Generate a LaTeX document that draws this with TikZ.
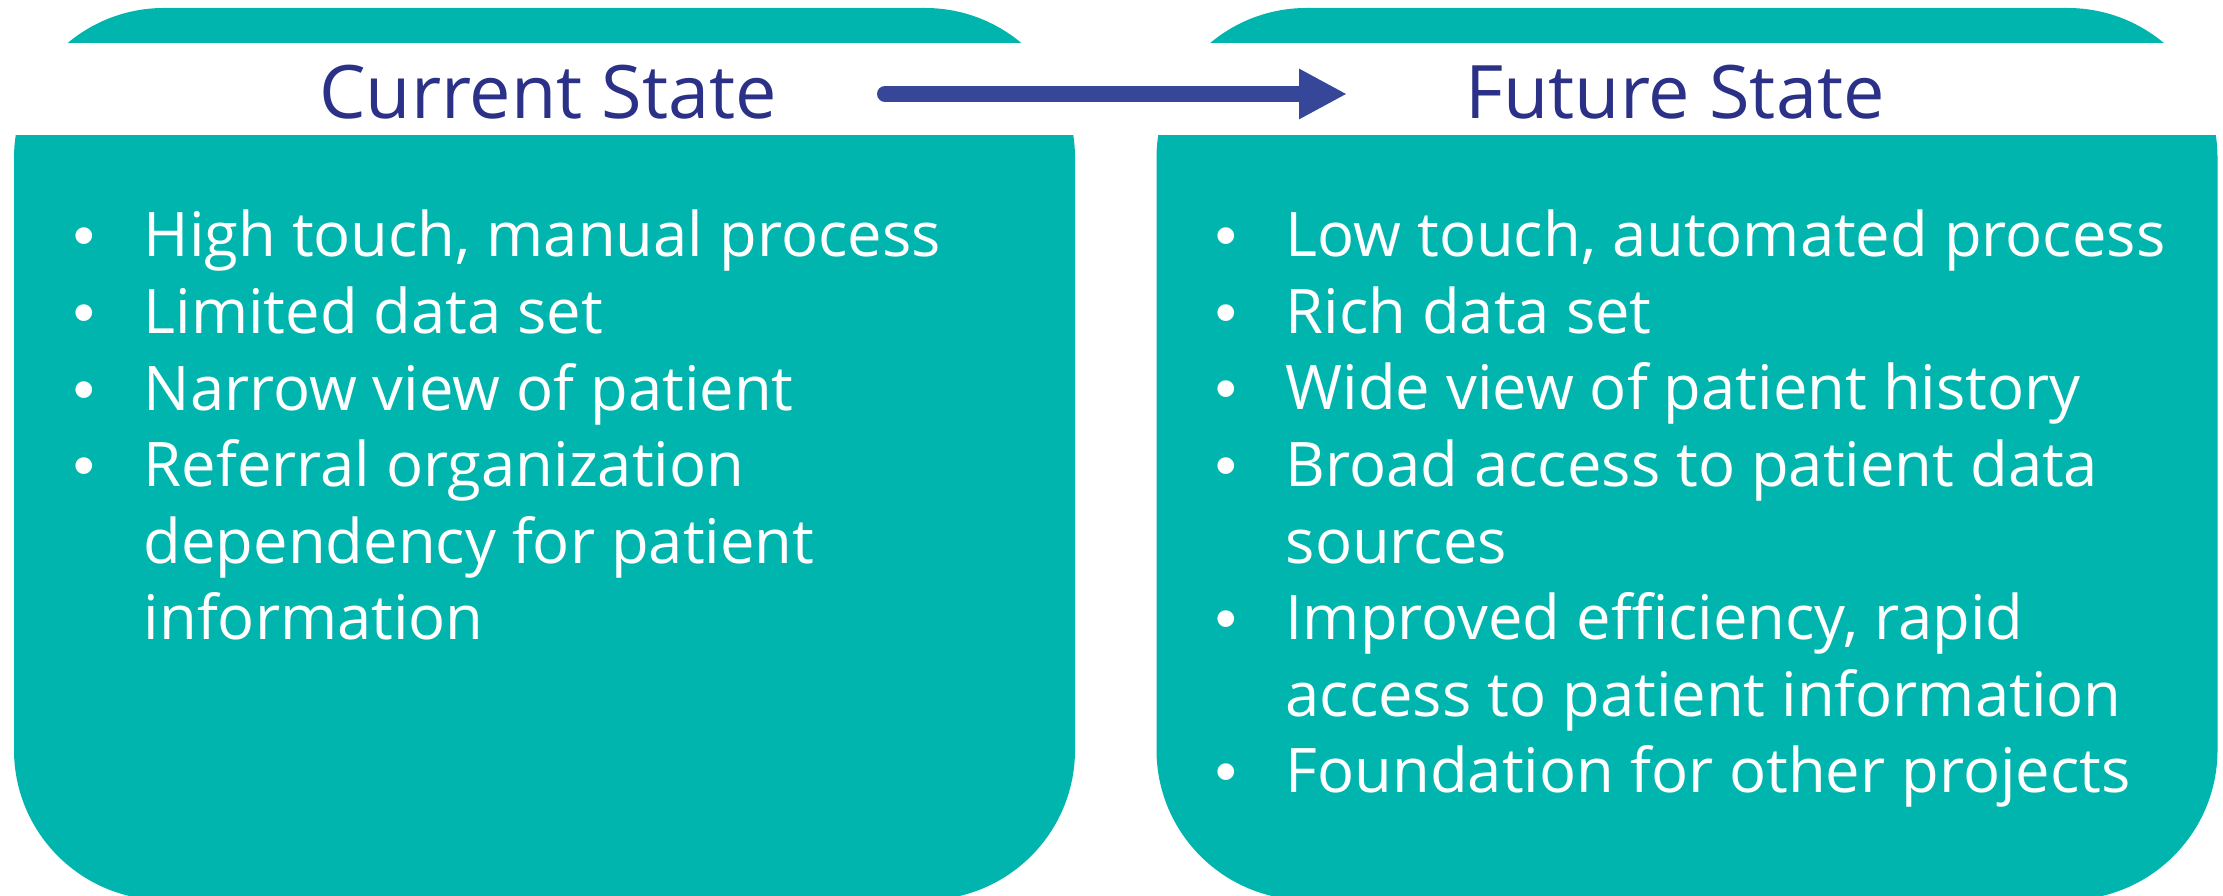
\documentclass[tikz,border=0pt]{standalone}
\usepackage{fontspec}
\setmainfont{Open Sans}
\newfontfamily\bulletfont{Liberation Sans}
\usetikzlibrary{arrows.meta}
\definecolor{boxteal}{RGB}{0,181,173}
\definecolor{titleblue}{RGB}{42,49,134}
\definecolor{arrowblue}{RGB}{54,71,154}
\tikzstyle{statebox}=[fill=boxteal, rounded corners=1.5cm, minimum width=10.61cm, minimum height=8.92cm, inner sep=0pt]
\tikzstyle{statetitle}=[text=titleblue, font=\fontsize{21pt}{25pt}\selectfont, inner sep=0pt, anchor=base]
\tikzstyle{pointlist}=[text=white, font=\fontsize{17.5pt}{21.8pt}\selectfont, align=left, inner sep=0pt, anchor=base west]
\newcommand{\bul}{\makebox[0.70cm][l]{{\bulletfont •}}}
\newcommand{\cont}{\hspace*{0.70cm}}

\begin{document}
\begin{tikzpicture}
	\useasboundingbox (0, 0) rectangle (22.23, -8.96);
	\begin{scope}
		\node (curbox) at (5.445, -4.54)[statebox] {};
		\node (futbox) at (16.87, -4.54)[statebox] {};
		\fill [white] (0, -0.43) rectangle (22.23, -1.35);
	\end{scope}
	\begin{scope}
		\node (curtitle) at (5.48, -1.19)[statetitle] {Current State};
		\node (futtitle) at (16.75, -1.19)[statetitle] {Future State};
		\coordinate (arrfrom) at (8.85, -0.94);
		\coordinate (arrto) at (13.47, -0.94);
		\path [arrowblue, line width=0.16cm, line cap=round, -{Triangle[length=0.48cm, width=0.47cm]}] (arrfrom) edge (arrto);
	\end{scope}
	\begin{scope}
		% base anchor sits on the last line
		\node (curlist) at (0.73, -6.40)[pointlist] {\bul High touch, manual process\\
			\bul Limited data set\\
			\bul Narrow view of patient\\
			\bul Referral organization\\
			\cont dependency for patient\\
			\cont information};
		\node (futlist) at (12.15, -7.93)[pointlist] {\bul Low touch, automated process\\
			\bul Rich data set\\
			\bul Wide view of patient history\\
			\bul Broad access to patient data\\
			\cont sources\\
			\bul Improved efficiency, rapid\\
			\cont access to patient information\\
			\bul Foundation for other projects};
	\end{scope}
\end{tikzpicture}
\end{document}
